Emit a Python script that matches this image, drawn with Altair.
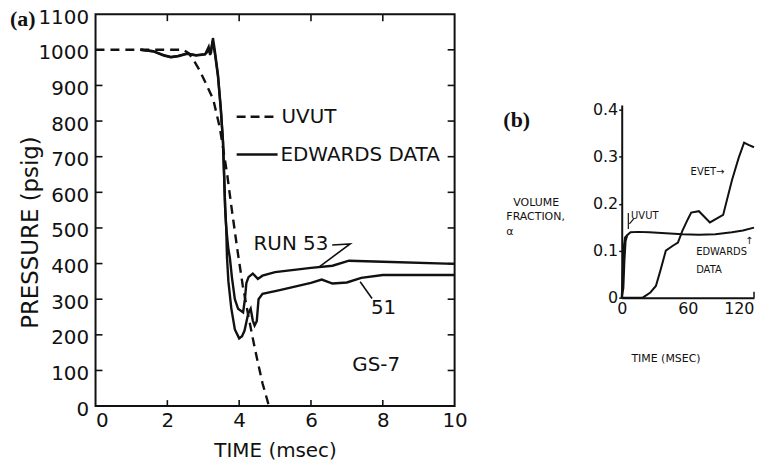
import altair as alt
import pandas as pd

# ---------------- Panel (a): pressure vs time ----------------
uvut_t = [0, 2.45, 2.6, 2.75, 2.9, 3.1, 3.28, 3.46, 3.66, 3.8, 3.96, 4.1, 4.24, 4.38, 4.5, 4.65, 4.83]
uvut_p = [1000, 1000, 990, 968, 942, 900, 860, 782, 655, 548, 432, 338, 262, 190, 132, 64, 0]

run53_t = [1.25, 1.6, 1.9, 2.1, 2.3, 2.55, 2.8, 3.05, 3.18, 3.22, 3.27, 3.32, 3.41, 3.49, 3.55, 3.58,
           3.61, 3.64, 3.7, 3.74, 3.8, 3.88, 3.97, 4.11, 4.16, 4.2, 4.26, 4.38, 4.52, 4.65, 5.0, 6.0,
           6.6, 7.06, 8.0, 10.0]
run53_p = [1000, 996, 985, 980, 983, 990, 985, 988, 1000, 995, 1033, 1000, 930, 835, 743, 650,
           556, 500, 440, 417, 360, 300, 273, 263, 300, 345, 362, 372, 357, 366, 376, 388,
           394, 408, 405, 399]

run51_t = [1.25, 1.6, 1.9, 2.1, 2.3, 2.55, 2.8, 3.05, 3.15, 3.19, 3.26, 3.33, 3.41, 3.49, 3.55, 3.58,
           3.61, 3.64, 3.66, 3.7, 3.78, 3.88, 4.0, 4.08, 4.15, 4.25, 4.32, 4.38, 4.43, 4.49, 4.54,
           4.65, 5.1, 6.0, 6.3, 6.6, 7.0, 7.4, 8.0, 10.0]
run51_p = [1000, 996, 984, 979, 982, 989, 984, 987, 1008, 985, 1025, 985, 925, 830, 740, 650,
           556, 500, 420, 350, 275, 215, 190, 196, 212, 259, 273, 240, 226, 238, 300,
           315, 325, 346, 355, 344, 347, 360, 368, 368]

a_x_ticks = [0, 2, 4, 6, 8, 10]
a_y_ticks = [0, 100, 200, 300, 400, 500, 600, 700, 800, 900, 1000, 1100]
a_inner_x = [2, 4, 6, 8]
a_inner_y = [100, 200, 300, 400, 500, 600, 700, 800, 900, 1000]

# annotations (data coordinates)
leg_t = [3.93, 5.07]
leg_uvut_p = 812
leg_edw_p = 706
leg_text = ["UVUT", "EDWARDS DATA"]
leg_text_t = [5.18, 5.15]
leg_text_p = [812, 706]

ann_text = ["RUN 53", "51", "GS-7"]
ann_t = [4.4, 7.67, 7.15]
ann_p = [455, 274, 114]

lead53_t = [6.59, 7.09, 6.23]
lead53_p = [452, 455, 391]
lead51_t = [7.37, 7.70]
lead51_p = [349, 302]

# ---------------- Panel (b): volume fraction vs time ----------------
b_uvut_t = [0, 1, 2, 3, 5]
b_uvut_a = [0, 0.06, 0.11, 0.128, 0.133]
b_edw_t = [0, 1.5, 2.5, 3.5, 5, 8, 15, 25, 40, 55, 70, 85, 100, 110, 120]
b_edw_a = [0, 0.02, 0.08, 0.12, 0.133, 0.139, 0.14, 0.139, 0.137, 0.135, 0.134, 0.135, 0.139, 0.143, 0.149]
b_evet_t = [0, 19, 26, 31, 35, 40, 46, 51, 55, 60, 63, 70, 80, 92, 100, 106, 111, 115, 120]
b_evet_a = [0, 0, 0.011, 0.025, 0.057, 0.1, 0.11, 0.117, 0.142, 0.167, 0.181, 0.184, 0.16, 0.176,
            0.25, 0.297, 0.33, 0.325, 0.32]

b_x_ticks = [0, 60, 120]
b_y_ticks = [0, 0.1, 0.2, 0.3, 0.4]

b_text = ["UVUT", "EVET→", "EDWARDS", "DATA"]
b_text_t = [8.5, 62.5, 67.5, 67.5]
b_text_a = [0.174, 0.267, 0.097, 0.059]
b_arrow_t = 115.5
b_arrow_a = 0.121

b_lead_t = [[6.0, 6.0], [11.0, 7.0]]
b_lead_a = [[0.18, 0.146], [0.168, 0.157]]

FONT = "DejaVu Sans"
BLACK = "#111111"

# ---------- build panel (a) ----------
W_A, H_A = 361, 394
xs_a = alt.Scale(domain=[0, 10], nice=False)
ys_a = alt.Scale(domain=[0, 1100], nice=False)
x_a = alt.X("t:Q", scale=xs_a,
            axis=alt.Axis(values=a_x_ticks, ticks=False, domain=False, grid=False, labelFlush=False,
                          labelAlign=alt.condition("datum.value == 0", alt.value("left"), alt.value("center")),
                          labelFont=FONT, labelFontSize=20, labelColor=BLACK, labelPadding=5,
                          title="TIME (msec)", titleFont=FONT, titleFontSize=20,
                          titleFontWeight="normal", titleColor=BLACK, titleY=51,
                          titleBaseline="alphabetic"))
y_a = alt.Y("p:Q", scale=ys_a,
            axis=alt.Axis(values=a_y_ticks, format="d", ticks=False, domain=False, grid=False,
                          labelFont=FONT, labelFontSize=20, labelColor=BLACK, labelPadding=7,
                          labelOffset=3,
                          title="PRESSURE (psig)", titleFont=FONT, titleFontSize=23,
                          titleFontWeight="normal", titleColor=BLACK, titleX=-58, titleY=219,
                          titleAngle=270, titleBaseline="alphabetic"))

df_uvut = pd.DataFrame({"t": uvut_t, "p": uvut_p})
df_runs = pd.concat([
    pd.DataFrame({"t": run53_t, "p": run53_p, "s": "53", "o": range(len(run53_t))}),
    pd.DataFrame({"t": run51_t, "p": run51_p, "s": "51", "o": range(len(run51_t))}),
])

uvut_line = alt.Chart(df_uvut).mark_line(color=BLACK, strokeWidth=2.4, strokeDash=[9, 6]).encode(x=x_a, y=y_a)
runs_line = alt.Chart(df_runs).mark_line(color=BLACK, strokeWidth=2.4).encode(
    x=x_a, y=y_a, detail="s:N", order="o:Q")

leg_dash = alt.Chart(pd.DataFrame({"t": leg_t, "p": [leg_uvut_p] * 2})).mark_line(
    color=BLACK, strokeWidth=2.4, strokeDash=[9, 5]).encode(x=x_a, y=y_a)
leg_solid = alt.Chart(pd.DataFrame({"t": leg_t, "p": [leg_edw_p] * 2})).mark_line(
    color=BLACK, strokeWidth=2.4).encode(x=x_a, y=y_a)
leg_txt = alt.Chart(pd.DataFrame({"t": leg_text_t, "p": leg_text_p, "txt": leg_text})).mark_text(
    align="left", baseline="middle", font=FONT, fontSize=20, color=BLACK).encode(x=x_a, y=y_a, text="txt:N")
ann_txt = alt.Chart(pd.DataFrame({"t": ann_t, "p": ann_p, "txt": ann_text})).mark_text(
    align="left", baseline="middle", font=FONT, fontSize=20, color=BLACK).encode(x=x_a, y=y_a, text="txt:N")
df_lead = pd.concat([
    pd.DataFrame({"t": lead53_t, "p": lead53_p, "s": "a", "o": range(3)}),
    pd.DataFrame({"t": lead51_t, "p": lead51_p, "s": "b", "o": range(2)}),
])
leads = alt.Chart(df_lead).mark_line(color=BLACK, strokeWidth=1.6).encode(
    x=x_a, y=y_a, detail="s:N", order="o:Q")

df_iy = pd.DataFrame({"p": a_inner_y})
df_ix = pd.DataFrame({"t": a_inner_x})
tick_l = alt.Chart(df_iy).mark_rule(color=BLACK, strokeWidth=1.6).encode(
    y=y_a, x=alt.value(0), x2=alt.value(7))
tick_r = alt.Chart(df_iy).mark_rule(color=BLACK, strokeWidth=1.6).encode(
    y=y_a, x=alt.value(W_A - 7), x2=alt.value(W_A))
tick_t = alt.Chart(df_ix).mark_rule(color=BLACK, strokeWidth=1.6).encode(
    x=x_a, y=alt.value(0), y2=alt.value(7))
tick_b = alt.Chart(df_ix).mark_rule(color=BLACK, strokeWidth=1.6).encode(
    x=x_a, y=alt.value(H_A - 6), y2=alt.value(H_A))
label_a = alt.Chart(pd.DataFrame({"txt": ["(a)"]})).mark_text(
    align="left", baseline="middle", font="Liberation Serif", fontSize=22, fontWeight="bold",
    color=BLACK).encode(x=alt.value(-86), y=alt.value(5), text="txt:N")

# invisible layout guides (fix the chart's outer bounds)
guide_top = alt.Chart(pd.DataFrame({"k": [0]})).mark_rule(opacity=0, strokeWidth=1).encode(
    x=alt.value(-87), x2=alt.value(-80), y=alt.value(-20))
guide_bottom = alt.Chart(pd.DataFrame({"k": [0]})).mark_rule(opacity=0, strokeWidth=1).encode(
    x=alt.value(-87), x2=alt.value(-80), y=alt.value(452))

panel_a = alt.layer(uvut_line, runs_line, leg_dash, leg_solid, leg_txt, ann_txt, leads,
                    tick_l, tick_r, tick_t, tick_b, label_a, guide_top, guide_bottom).properties(
    width=W_A, height=H_A, view=alt.ViewBackground(stroke=BLACK, strokeWidth=2))

# ---------- build panel (b) ----------
W_B, H_B = 133, 285
xs_b = alt.Scale(domain=[0, 120], nice=False)
ys_b = alt.Scale(domain=[0, 0.41], range=[H_B, H_B - 193.7], nice=False)
x_b = alt.X("t:Q", scale=xs_b,
            axis=alt.Axis(values=b_x_ticks, ticks=False, domainColor=BLACK, domainWidth=2, grid=False,
                          labelFlush=False,
                          labelFont=FONT, labelFontSize=16, labelColor=BLACK, labelPadding=3,
                          labelAlign=alt.condition("datum.value == 120", alt.value("right"), alt.value("center")),
                          title="TIME (MSEC)", titleFont=FONT, titleFontSize=11,
                          titleFontWeight="normal", titleColor=BLACK, titleX=44, titleY=64,
                          titleBaseline="alphabetic"))
y_b = alt.Y("a:Q", scale=ys_b,
            axis=alt.Axis(values=b_y_ticks, format="~g", tickSize=3, tickColor=BLACK, tickWidth=1.5,
                          domainColor=BLACK, domainWidth=2, grid=False,
                          labelFont=FONT, labelFontSize=16, labelColor=BLACK, labelPadding=1,
                          title=None))

df_b = pd.concat([
    pd.DataFrame({"t": b_uvut_t, "a": b_uvut_a, "s": "uvut", "o": range(len(b_uvut_t))}),
    pd.DataFrame({"t": b_edw_t, "a": b_edw_a, "s": "edw", "o": range(len(b_edw_t))}),
    pd.DataFrame({"t": b_evet_t, "a": b_evet_a, "s": "evet", "o": range(len(b_evet_t))}),
])
b_lines = alt.Chart(df_b).mark_line(color=BLACK, strokeWidth=2).encode(
    x=x_b, y=y_b, detail="s:N", order="o:Q")
df_bl = pd.concat([
    pd.DataFrame({"t": b_lead_t[i], "a": b_lead_a[i], "s": str(i), "o": range(2)}) for i in range(2)
])
b_leads = alt.Chart(df_bl).mark_line(color=BLACK, strokeWidth=1.2).encode(
    x=x_b, y=y_b, detail="s:N", order="o:Q")
b_txt = alt.Chart(pd.DataFrame({"t": b_text_t, "a": b_text_a, "txt": b_text})).mark_text(
    align="left", baseline="middle", font=FONT, fontSize=10, color=BLACK).encode(
    x=x_b, y=y_b, text="txt:N")
b_arrow = alt.Chart(pd.DataFrame({"t": [b_arrow_t], "a": [b_arrow_a], "txt": ["↑"]})).mark_text(
    align="center", baseline="middle", font=FONT, fontSize=10, color=BLACK).encode(
    x=x_b, y=y_b, text="txt:N")
b_end_tick = alt.Chart(pd.DataFrame({"t": [b_x_ticks[-1]]})).mark_rule(color=BLACK, strokeWidth=1.5).encode(
    x=x_b, y=alt.value(H_B - 6), y2=alt.value(H_B))
b_ylab = alt.Chart(pd.DataFrame({"txt": ["VOLUME", "FRACTION,", "α"],
                                 "px": [-109, -116, -116], "py": [190, 204, 219]})).mark_text(
    align="left", baseline="middle", font=FONT, fontSize=11, color=BLACK).encode(
    x=alt.X("px:Q", scale=None), y=alt.Y("py:Q", scale=None), text="txt:N")
label_b = alt.Chart(pd.DataFrame({"txt": ["(b)"]})).mark_text(
    align="left", baseline="middle", font="Liberation Serif", fontSize=22, fontWeight="bold",
    color=BLACK).encode(x=alt.value(-119), y=alt.value(106), text="txt:N")

panel_b = alt.layer(b_lines, b_leads, b_txt, b_arrow, b_end_tick, b_ylab, label_b).properties(
    width=W_B, height=H_B, view=alt.ViewBackground(stroke=None))

chart = alt.hconcat(panel_a, panel_b, spacing=168, bounds="flush").properties(
    padding={"left": 0, "top": -16, "right": -2, "bottom": -4}, background="white"
).configure_view(stroke=None)

chart.save("out.html", embed_options={"renderer": "svg", "actions": False})
